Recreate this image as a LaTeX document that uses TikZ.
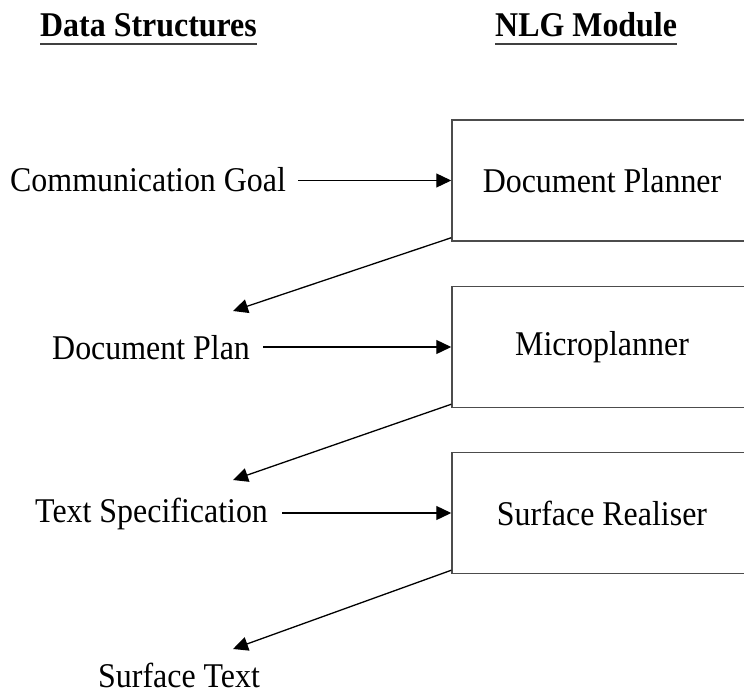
\documentclass[tikz,border=0pt]{standalone}
\usepackage{fontspec}
\setmainfont{Liberation Serif}[FakeStretch=0.92]
\usetikzlibrary{arrows.meta}

\tikzset{
  lbl/.style={inner sep=0pt, anchor=base west, font=\fontsize{34.7pt}{40pt}\selectfont},
  hdr/.style={inner sep=0pt, anchor=base west, font=\fontsize{34.7pt}{40pt}\selectfont\bfseries},
  uline/.style={draw=black!75, line width=2.2pt},
  module/.style={draw=black!70, line width=1.5pt, rectangle, minimum width=300pt,
    minimum height=121pt, inner sep=0pt, font=\fontsize{34.7pt}{40pt}\selectfont},
  flow/.style={draw=black, line width=1.3pt, -{Triangle[length=15pt,width=14pt]}},
}

\begin{document}
\begin{tikzpicture}[x=1pt, y=-1pt]
  \clip (0,0) rectangle (744,693);

  % column headings
  \node[hdr] (hds) at (40,37) {Data Structures};
  \node[hdr] (hnlg) at (495,37) {NLG Module};
  \draw[uline] ([yshift=-7pt]hds.base west) -- ([yshift=-7pt]hds.base east);
  \draw[uline] ([yshift=-7pt]hnlg.base west) -- ([yshift=-7pt]hnlg.base east);

  % NLG modules (right edges run past the page)
  \node[module] (planner) at (602,180.5) {Document Planner};
  \node[module] (micro)   at (602,347)   {Microplanner};
  \node[module] (real)    at (602,513)   {Surface Realiser};

  % data structures
  \node[lbl] (goal) at (10,191)  {Communication Goal};
  \node[lbl] (plan) at (52,359)  {Document Plan};
  \node[lbl] (spec) at (35,522)  {Text Specification};
  \node[lbl] (surf) at (98,687)  {Surface Text};

  % inputs into each module
  \draw[flow, shorten <=12pt] (goal.east |- planner.west) -- (planner.west);
  \draw[flow, shorten <=13pt] (plan.east |- micro.west) -- (micro.west);
  \draw[flow, shorten <=14pt] (spec.east |- real.west) -- (real.west);

  % outputs of each module
  \coordinate (out1) at (233,311);
  \coordinate (out2) at (233,480);
  \coordinate (out3) at (233,649);
  \draw[flow] ([yshift=4pt]planner.south west) -- (out1);
  \draw[flow] ([yshift=4pt]micro.south west) -- (out2);
  \draw[flow] ([yshift=4pt]real.south west) -- (out3);
\end{tikzpicture}
\end{document}
